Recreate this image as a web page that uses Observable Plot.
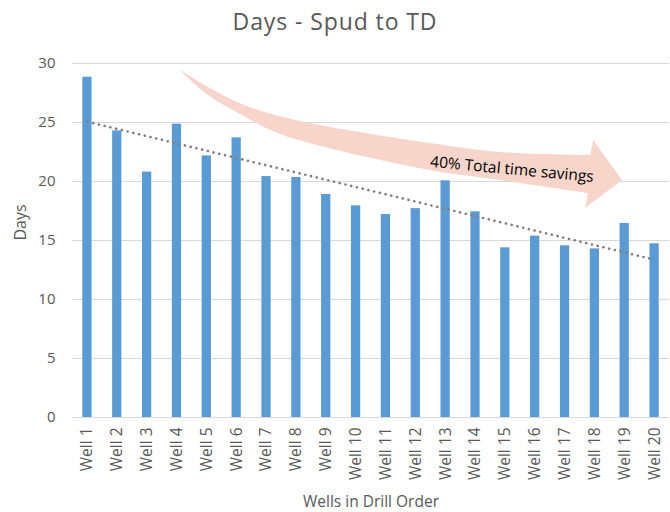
<!DOCTYPE html>
<html><head><meta charset="utf-8">
<script src="https://cdn.jsdelivr.net/npm/d3@7"></script>
<script src="https://cdn.jsdelivr.net/npm/@observablehq/plot@0.6"></script>
<style>
body{margin:0;background:#fff;font-family:"Open Sans",sans-serif;}
#title{height:37px;line-height:42px;text-align:center;font-size:23px;letter-spacing:0.9px;color:#595959;overflow:visible;white-space:nowrap;}
#chart svg{display:block;}
</style></head><body>
<div id="title">Days - Spud to TD</div>
<div id="chart"></div>
<script>
const wells = ["Well 1","Well 2","Well 3","Well 4","Well 5","Well 6","Well 7","Well 8","Well 9","Well 10",
  "Well 11","Well 12","Well 13","Well 14","Well 15","Well 16","Well 17","Well 18","Well 19","Well 20"];
const days = [28.84,24.29,20.8,24.86,22.17,23.7,20.42,20.34,18.9,17.94,17.2,17.7,20.06,17.43,14.38,15.37,14.55,14.29,16.44,14.72];
const yTicks = [0,5,10,15,20,25,30];
const yLabel = "Days";
const xLabel = "Wells in Drill Order";
// annotation arrow outline, in [well position, days]
const arrowUpper = [[4.08,29.49],[5.05,27.97],[6.19,26.53],[7.30,25.59],[8.31,25.0],[9.14,24.58],[12.49,23.22],[14.84,22.46],[17.86,22.2]];
const arrowHead = [[17.96,23.47],[18.93,20.08],[17.69,17.71]];
const arrowLower = [[17.79,18.98],[14.84,20.08],[12.49,20.93],[8.31,23.31],[7.30,24.15],[6.19,25.59],[5.05,27.29],[4.08,29.49]];
const arrowLabel = "40% Total time savings";
const arrowLabelPos = [15.24, 21.02];

// linear trend (least squares) of days vs well order
const xs = days.map((_, i) => i + 1);
const mx = d3.mean(xs), my = d3.mean(days);
const slope = d3.sum(xs, (x, i) => (x - mx) * (days[i] - my)) / d3.sum(xs, x => (x - mx) ** 2);
const icpt = my - slope * mx;
const data = wells.map((w, i) => ({well: w, days: days[i], fit: icpt + slope * (i + 1)}));

function arrowMark(index, scales) {
  const x = scales.x, y = scales.y;
  const step = x(wells[1]) - x(wells[0]);
  const bw = x.bandwidth ? x.bandwidth() : step * 0.31;
  const x0 = x(wells[0]) + bw / 2;
  const px = w => x0 + (w - 1) * step;
  const line = d3.line(d => px(d[0]), d => y(d[1])).curve(d3.curveCatmullRom.alpha(0.5));
  const up = line(arrowUpper);
  const low = line(arrowLower);
  const head = arrowHead.map(d => `L${px(d[0])},${y(d[1])}`).join("");
  const path = up + head + "L" + low.slice(1) + "Z";
  const g = d3.create("svg:g");
  g.append("path").attr("d", path).attr("fill", "#f8d5cb");
  g.append("text")
    .attr("transform", `translate(${px(arrowLabelPos[0])},${y(arrowLabelPos[1])}) rotate(5.3)`)
    .attr("text-anchor", "middle").attr("dy", "0.35em")
    .attr("fill", "#000").attr("font-size", 15.5).attr("font-family", "Open Sans")
    .text(arrowLabel);
  return g.node();
}

const chart = Plot.plot({
  width: 670, height: 475,
  marginTop: 26, marginBottom: 95, marginLeft: 72, marginRight: 1,
  style: {fontFamily: "Open Sans", fontSize: "15px", color: "#595959", background: "#fff", overflow: "visible"},
  x: {domain: wells, paddingInner: 0.69, paddingOuter: 0.345, round: false, label: null},
  y: {domain: [0, 30], ticks: yTicks, label: null},
  marks: [
    Plot.gridY(yTicks, {stroke: "#d9d9d9", strokeOpacity: 1, strokeWidth: 1}),
    arrowMark,
    Plot.barY(data, {x: "well", y: "days", fill: "#5b9bd5"}),
    Plot.ruleY([0], {stroke: "#d9d9d9", strokeWidth: 1}),
    Plot.line(data, {x: "well", y: "fit", stroke: "#7f7f7f", strokeWidth: 2.6, strokeDasharray: "0.1 5.8", strokeLinecap: "round"}),
    Plot.axisY({ticks: yTicks, tickSize: 0, tickPadding: 17, fontSize: 15, label: null}),
    Plot.axisX({tickSize: 0, tickRotate: -90, tickPadding: 10, fontSize: 15.5, label: null}),
    Plot.text([yLabel], {frameAnchor: "left", dx: -52, rotate: -90, fontSize: 16, fill: "#595959", text: d => d}),
    Plot.text([xLabel], {frameAnchor: "bottom", dy: 89, fontSize: 15.5, fill: "#595959", text: d => d})
  ]
});
document.getElementById("chart").appendChild(chart);
</script>
</body></html>
